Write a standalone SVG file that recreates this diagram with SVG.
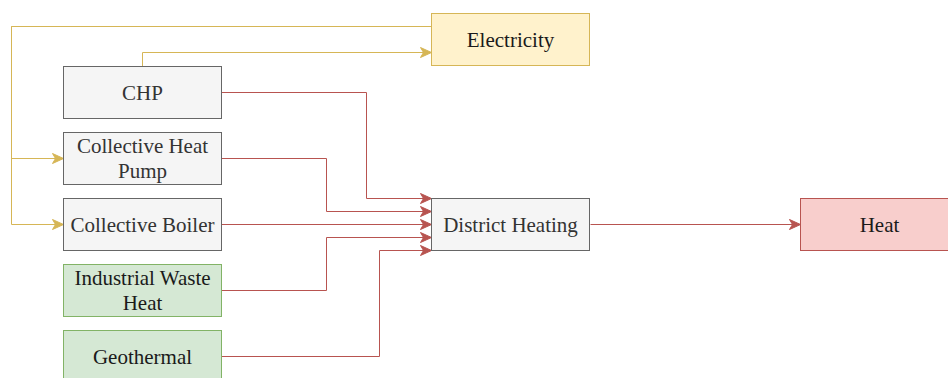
<svg xmlns="http://www.w3.org/2000/svg" width="948" height="378" viewBox="0 0 948 378" font-family="'Liberation Serif', 'Times New Roman', serif">
<style>
  text { font-size: 21px; text-anchor: middle; }
  .gray rect { fill: #f5f5f5; stroke: #666666; stroke-width: 1; }
  .gray text { fill: #333333; }
  .yellow rect { fill: #fff2cc; stroke: #d6b656; stroke-width: 1; }
  .green rect { fill: #d5e8d4; stroke: #82b366; stroke-width: 1; }
  .red rect { fill: #f8cecc; stroke: #b85450; stroke-width: 1; }
  .yellow text, .green text, .red text { fill: #1a1a1a; }
  .ey { fill: none; stroke: #d6b656; stroke-width: 1; }
  .er { fill: none; stroke: #b85450; stroke-width: 1; }
</style>
<defs>
  <marker id="arrY" markerUnits="userSpaceOnUse" markerWidth="14" markerHeight="14" refX="11" refY="5" orient="auto" overflow="visible">
    <path d="M0,0 L11,5 L0,10 L3,5 Z" fill="#d6b656" stroke="#d6b656" stroke-width="1" stroke-linejoin="miter"/>
  </marker>
  <marker id="arrR" markerUnits="userSpaceOnUse" markerWidth="14" markerHeight="14" refX="11" refY="5" orient="auto" overflow="visible">
    <path d="M0,0 L11,5 L0,10 L3,5 Z" fill="#b85450" stroke="#b85450" stroke-width="1" stroke-linejoin="miter"/>
  </marker>
</defs>
<g id="connectors">
  <path class="ey" d="M431.5,26.5 H11.5 V158.5 H63.5" marker-end="url(#arrY)"/>
  <path class="ey" d="M431.5,26.5 H11.5 V224.5 H63.5" marker-end="url(#arrY)"/>
  <path class="ey" d="M142.5,66.5 V52.5 H431.5" marker-end="url(#arrY)"/>
  <path class="er" d="M221.5,92.5 H366.5 V198.5 H431.5" marker-end="url(#arrR)"/>
  <path class="er" d="M221.5,158.5 H326.5 V211.5 H431.5" marker-end="url(#arrR)"/>
  <path class="er" d="M221.5,224.5 H431.5" marker-end="url(#arrR)"/>
  <path class="er" d="M221.5,290.5 H326.5 V237.5 H431.5" marker-end="url(#arrR)"/>
  <path class="er" d="M221.5,356.5 H379.5 V250.5 H431.5" marker-end="url(#arrR)"/>
  <path class="er" d="M590.5,224.5 H800.5" marker-end="url(#arrR)"/>
</g>
<g id="electricity" class="yellow">
  <rect x="431.5" y="13.5" width="158" height="52"/>
  <text x="510.5" y="46.5">Electricity</text>
</g>
<g id="chp" class="gray">
  <rect x="63.5" y="66.5" width="158" height="52"/>
  <text x="142.5" y="99.5">CHP</text>
</g>
<g id="collective-heat-pump" class="gray">
  <rect x="63.5" y="132.5" width="158" height="52"/>
  <text x="142.5" y="153">Collective Heat</text>
  <text x="142.5" y="178">Pump</text>
</g>
<g id="collective-boiler" class="gray">
  <rect x="63.5" y="198.5" width="158" height="52"/>
  <text x="142.5" y="231.5">Collective Boiler</text>
</g>
<g id="industrial-waste-heat" class="green">
  <rect x="63.5" y="264.5" width="158" height="52"/>
  <text x="142.5" y="285">Industrial Waste</text>
  <text x="142.5" y="310">Heat</text>
</g>
<g id="geothermal" class="green">
  <rect x="63.5" y="330.5" width="158" height="52"/>
  <text x="142.5" y="363.5">Geothermal</text>
</g>
<g id="district-heating" class="gray">
  <rect x="431.5" y="198.5" width="158" height="52"/>
  <text x="510.5" y="231.5">District Heating</text>
</g>
<g id="heat" class="red">
  <rect x="800.5" y="198.5" width="158" height="52"/>
  <text x="879.5" y="231.5">Heat</text>
</g>
</svg>
